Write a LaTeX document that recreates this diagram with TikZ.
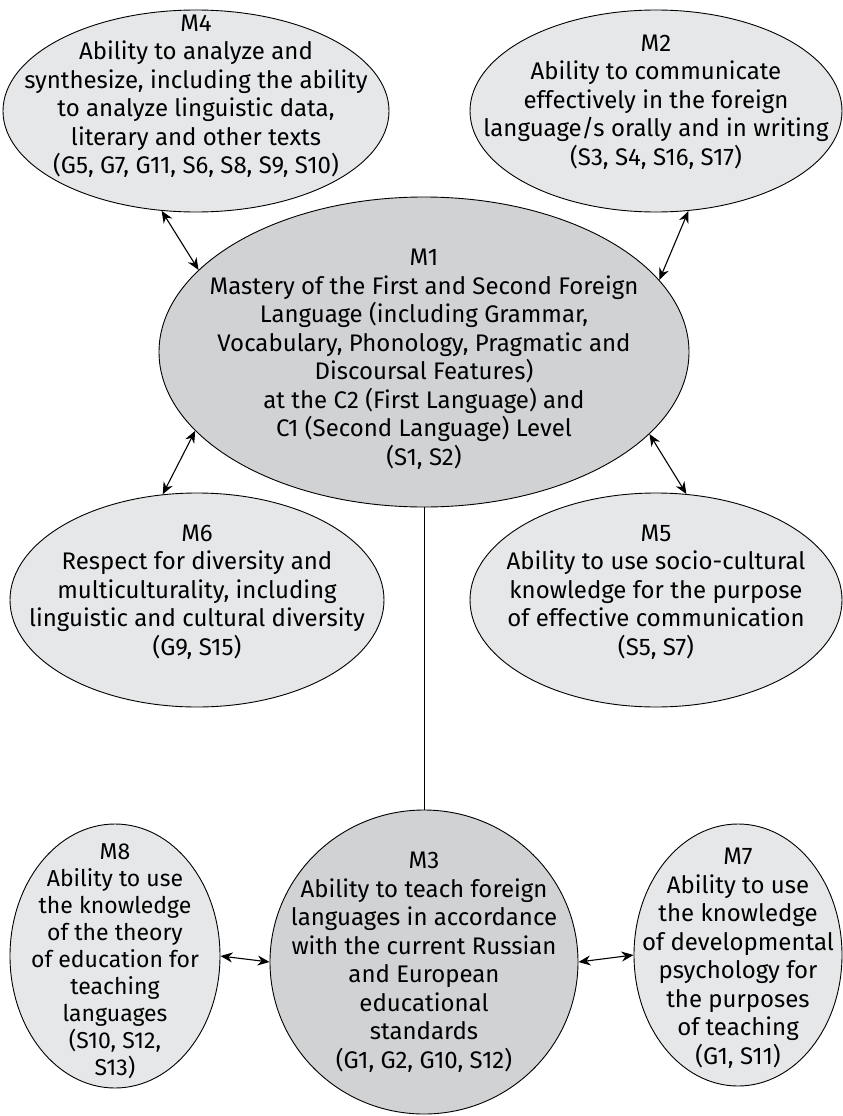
\documentclass[tikz,border=0pt]{standalone}
\usepackage{fontspec}
\setmainfont{Fira Sans}
\usetikzlibrary{shapes.geometric,arrows.meta}
\definecolor{grau1}{HTML}{E6E7E8}
\definecolor{grau2}{HTML}{D1D2D4}

\begin{document}
\begin{tikzpicture}[
		x=1pt, y=-1pt,				% 1 Einheit = 1 Pixel der Vorlage
		>={Stealth[length=12pt,width=10pt]},	% Standardpfeilspitzen
		font=\fontsize{24}{28.5}\selectfont,	% Verwendete Schrift
		oval/.style={draw, ellipse, line width=0.9pt, inner sep=0pt, fill=grau1},
		kern/.style={oval, fill=grau2},
		txt/.style={align=center, inner sep=0pt},
		link/.style={<->, line width=1.1pt}
	]
	\useasboundingbox (0,0) rectangle (843,1116);
	
	% Knoten oben
	\node[oval, minimum width=386, minimum height=202] (m4) at (196,111) {};
	\node[txt] (m4t) at ([yshift=15]m4.center) {M4\\Ability to analyze and\\synthesize, including the ability\\to analyze linguistic data,\\literary and other texts\\(G5, G7, G11, S6, S8, S9, S10)};
	\node[oval, minimum width=372, minimum height=202] (m2) at (656,111) {};
	\node[txt] (m2t) at ([yshift=9]m2.center) {M2\\Ability to communicate\\effectively in the foreign\\language/s orally and in writing\\(S3, S4, S16, S17)};
	
	% Hauptknoten
	\node[kern, minimum width=530, minimum height=310] (m1) at (424,352) {};
	\node[txt] (m1t) at ([yshift=-7]m1.center) {M1\\Mastery of the First and Second Foreign\\Language (including Grammar,\\Vocabulary, Phonology, Pragmatic and\\Discoursal Features)\\at the C2 (First Language) and\\C1 (Second Language) Level\\(S1, S2)};
	
	% Knoten Mitte
	\node[oval, minimum width=374, minimum height=214] (m6) at (197,600) {};
	\node[txt] (m6t) at ([yshift=8]m6.center) {M6\\Respect for diversity and\\multiculturality, including\\linguistic and cultural diversity\\(G9, S15)};
	\node[oval, minimum width=372, minimum height=214] (m5) at (656,600) {};
	\node[txt] (m5t) at ([yshift=8]m5.center) {M5\\Ability to use socio-cultural\\knowledge for the purpose\\of effective communication\\(S5, S7)};
	
	% Knoten unten
	\node[kern, minimum width=308, minimum height=304] (m3) at (424,962) {};
	\node[txt] (m3t) at (m3.center) {M3\\Ability to teach foreign\\languages in accordance\\with the current Russian\\and European\\educational\\standards\\(G1, G2, G10, S12)};
	\node[oval, minimum width=210, minimum height=264] (m8) at (115,956) {};
	\node[txt, font=\fontsize{23}{27}\selectfont] (m8t) at ([yshift=-5]m8.center) {M8\\Ability to use\\the knowledge\\of the theory\\of education for\\teaching\\languages\\(S10, S12,\\S13)};
	\node[oval, minimum width=208, minimum height=262] (m7) at (738,955) {};
	\node[txt] (m7t) at ([yshift=-3]m7.center) {M7\\Ability to use\\the knowledge\\of developmental\\psychology for\\the purposes\\of teaching\\(G1, S11)};
	
	% Verbindungen
	\draw[link] (m4.251) -- (m1.160.4);
	\draw[link] (m2.288.4) -- (m1.17.2);
	\draw[link] (m1.199.6) -- (m6.108.6);
	\draw[link] (m1.340.2) -- (m5.74.2);
	\draw[line width=0.9pt] (m1.south) -- (m3.north);
	\draw[link] (m8.east) -- (m3.west);
	\draw[link] (m3.east) -- (m7.west);
	
\end{tikzpicture}
\end{document}
